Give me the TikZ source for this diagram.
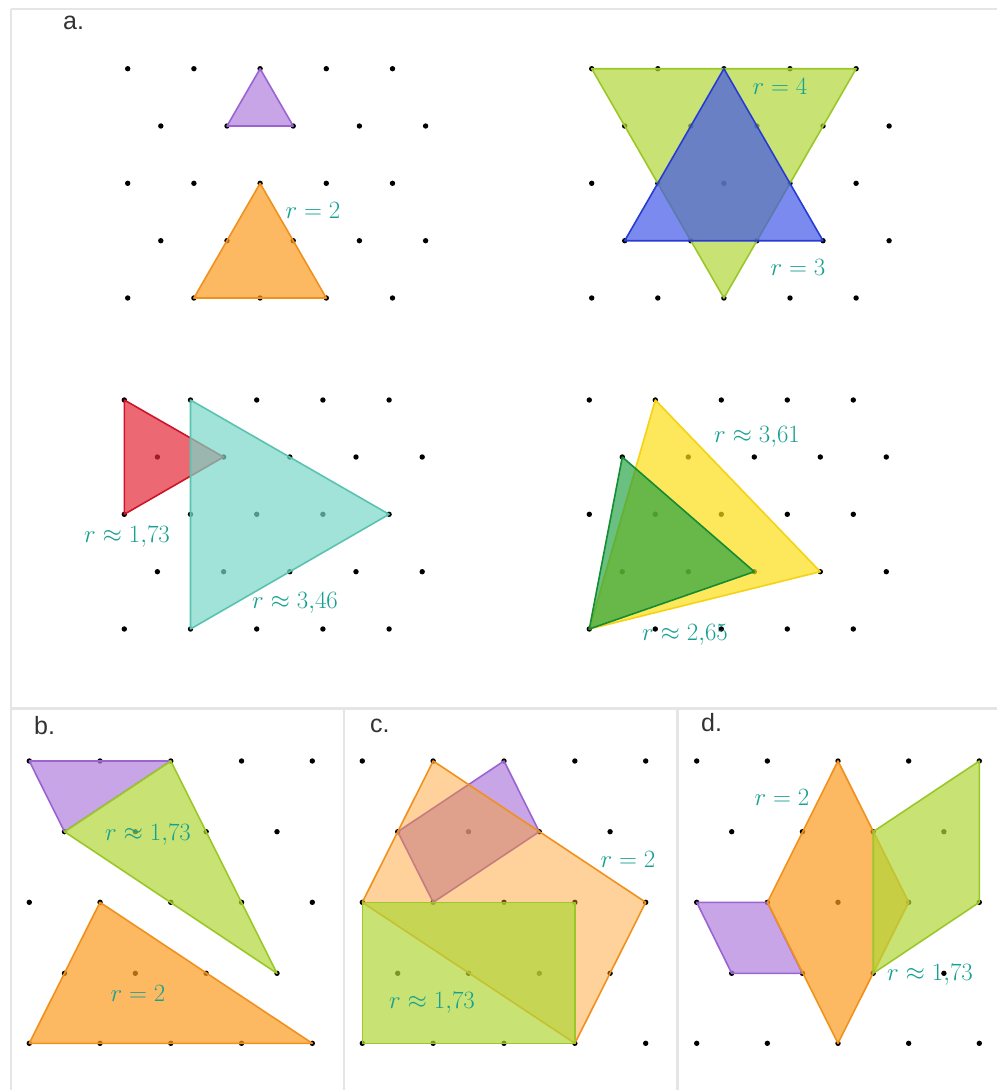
\documentclass[tikz,border=0pt]{standalone}
\usepackage{fontspec}
\newfontfamily\panelfont{Liberation Sans}
\definecolor{frameC}{RGB}{229,229,229}
\definecolor{lblC}{RGB}{22,160,145}
\definecolor{panC}{RGB}{50,50,50}
\definecolor{fPurple}{RGB}{176,127,219}
\definecolor{lPurple}{RGB}{155,100,210}
\definecolor{fOrange}{RGB}{252,155,31}
\definecolor{lOrange}{RGB}{240,145,30}
\definecolor{fLime}{RGB}{176,215,55}
\definecolor{lLime}{RGB}{155,200,40}
\definecolor{fBlue}{RGB}{65,88,231}
\definecolor{lBlue}{RGB}{40,60,210}
\definecolor{fRed}{RGB}{228,42,56}
\definecolor{lRed}{RGB}{205,20,40}
\definecolor{fTeal}{RGB}{121,215,199}
\definecolor{lTeal}{RGB}{90,195,175}
\definecolor{fYellow}{RGB}{252,222,22}
\definecolor{lYellow}{RGB}{245,210,20}
\definecolor{fDkGreen}{RGB}{24,158,62}
\definecolor{lDkGreen}{RGB}{20,140,50}
\tikzset{
  poly/.style={line width=1.6pt, line join=round, fill opacity=0.7},
  purppoly/.style={poly, fill=fPurple, draw=lPurple},
  orangepoly/.style={poly, fill=fOrange, draw=lOrange},
  limepoly/.style={poly, fill=fLime, draw=lLime},
  bluepoly/.style={poly, fill=fBlue, draw=lBlue},
  redpoly/.style={poly, fill=fRed, draw=lRed},
  tealpoly/.style={poly, fill=fTeal, draw=lTeal},
  yellowpoly/.style={poly, fill=fYellow, draw=lYellow},
  dkgreenpoly/.style={poly, fill=fDkGreen, draw=lDkGreen, fill opacity=0.65},
  lbl/.style={text=lblC, font=\fontsize{23}{28}\selectfont, inner sep=0pt},
  panlbl/.style={text=panC, font=\panelfont\fontsize{25}{30}\selectfont, inner sep=0pt, anchor=base west},
  framel/.style={draw=frameC, line width=2.5pt}
}
\begin{document}
\begin{tikzpicture}[x=1pt,y=-1pt]
\useasboundingbox (0,0) rectangle (997,1090);
% frames
\draw[framel] (11,9) -- (997,9);
\draw[framel] (11,9) -- (11,1090);
\draw[framel] (11,708.3) -- (997,708.3);
\draw[framel] (344,708.3) -- (344,1090);
\draw[framel] (677.3,708.3) -- (677.3,1090);
% panel labels
\node[panlbl] (la) at (63,29) {a.};
\node[panlbl] (lb) at (34,734) {b.};
\node[panlbl] (lc) at (370,732) {c.};
\node[panlbl] (ld) at (701,731) {d.};
% ---------- dots ----------
% a top-left
\foreach \yy in {68.7,183.3,298} \foreach \k in {0,...,4} \fill (127.7+66.2*\k,\yy) circle (2.7pt);
\foreach \yy in {126,240.7} \foreach \k in {0,...,4} \fill (160.8+66.2*\k,\yy) circle (2.7pt);
% a top-right
\foreach \yy in {68.7,183.3,298} \foreach \k in {0,...,4} \fill (591.7+66.1*\k,\yy) circle (2.7pt);
\foreach \yy in {126,240.7} \foreach \k in {0,...,4} \fill (624.7+66.1*\k,\yy) circle (2.7pt);
% a bottom-left
\foreach \yy in {400,514.3,629} \foreach \k in {0,...,4} \fill (124.3+66.2*\k,\yy) circle (2.7pt);
\foreach \yy in {457,571.7} \foreach \k in {0,...,4} \fill (157.4+66.2*\k,\yy) circle (2.7pt);
% a bottom-right
\foreach \yy in {400,514.3,629} \foreach \k in {0,...,4} \fill (589.3+66*\k,\yy) circle (2.7pt);
\foreach \yy in {457,571.7} \foreach \k in {0,...,4} \fill (622.3+66*\k,\yy) circle (2.7pt);
% b
\foreach \yy in {761,902.3,1043.3} \foreach \k in {0,...,4} \fill (29.3+70.75*\k,\yy) circle (2.7pt);
\foreach \yy in {831.7,973.3} \foreach \k in {0,...,3} \fill (64.5+70.83*\k,\yy) circle (2.7pt);
% c
\foreach \yy in {761,902.3,1043.3} \foreach \k in {0,...,4} \fill (362.3+70.85*\k,\yy) circle (2.7pt);
\foreach \yy in {831.7,973.3} \foreach \k in {0,...,3} \fill (397.7+70.8*\k,\yy) circle (2.7pt);
% d
\foreach \yy in {761,902.3,1043.3} \foreach \k in {0,...,4} \fill (696.7+70.65*\k,\yy) circle (2.7pt);
\foreach \yy in {831.7,973.3} \foreach \k in {0,...,3} \fill (731.7+70.73*\k,\yy) circle (2.7pt);
% ---------- shapes ----------
% a top-left
\filldraw[purppoly] (260.1,68.7) -- (227,126) -- (293.2,126) -- cycle;
\filldraw[orangepoly] (260.1,183.3) -- (193.9,298) -- (326.3,298) -- cycle;
% a top-right
\filldraw[limepoly] (591.7,68.7) -- (856.1,68.7) -- (723.9,298) -- cycle;
\filldraw[bluepoly] (723.9,68.7) -- (624.7,240.7) -- (823,240.7) -- cycle;
% a bottom-left
\filldraw[redpoly] (124.3,400) -- (124.3,514.3) -- (223.6,457) -- cycle;
\filldraw[tealpoly] (190.5,400) -- (190.5,629) -- (389.1,514.3) -- cycle;
% a bottom-right
\filldraw[yellowpoly] (655.3,400) -- (589.3,629) -- (820.3,571.7) -- cycle;
\filldraw[dkgreenpoly] (622.3,457) -- (589.3,629) -- (754.3,571.7) -- cycle;
% b
\filldraw[purppoly] (29.3,761) -- (170.8,761) -- (64.5,831.7) -- cycle;
\filldraw[limepoly] (170.8,761) -- (64.5,831.7) -- (277,973.3) -- cycle;
\filldraw[orangepoly] (100,902.3) -- (29.3,1043.3) -- (312.3,1043.3) -- cycle;
% c
\filldraw[purppoly] (504,761) -- (539.3,831.7) -- (433.2,902.3) -- (397.7,831.7) -- cycle;
\filldraw[orangepoly, fill opacity=0.45] (433.2,761) -- (645.7,902.3) -- (574.9,1043.3) -- (362.3,902.3) -- cycle;
\filldraw[limepoly] (362.3,902.3) -- (574.9,902.3) -- (574.9,1043.3) -- (362.3,1043.3) -- cycle;
% d
\filldraw[purppoly] (696.7,902.3) -- (767.4,902.3) -- (802.4,973.3) -- (731.7,973.3) -- cycle;
\filldraw[orangepoly] (838,761) -- (908.7,902.3) -- (838,1043.3) -- (767.4,902.3) -- cycle;
\filldraw[limepoly] (873.2,831.7) -- (979.3,761) -- (979.3,902.3) -- (873.2,973.3) -- cycle;
% ---------- labels ----------
\node[lbl] (r1) at (313,210) {$r=2$};
\node[lbl] (r2) at (780,86) {$r=4$};
\node[lbl] (r3) at (798,267) {$r=3$};
\node[lbl] (r4) at (127,537) {$r\approx 1{,}73$};
\node[lbl] (r5) at (295,603) {$r\approx 3{,}46$};
\node[lbl] (r6) at (757,437) {$r\approx 3{,}61$};
\node[lbl] (r7) at (685,635) {$r\approx 2{,}65$};
\node[lbl] (r8) at (148,835) {$r\approx 1{,}73$};
\node[lbl] (r9) at (138,993) {$r=2$};
\node[lbl] (r10) at (628,859) {$r=2$};
\node[lbl] (r11) at (432,1003) {$r\approx 1{,}73$};
\node[lbl] (r12) at (782,797) {$r=2$};
\node[lbl] (r13) at (930,975) {$r\approx 1{,}73$};
\end{tikzpicture}
\end{document}
